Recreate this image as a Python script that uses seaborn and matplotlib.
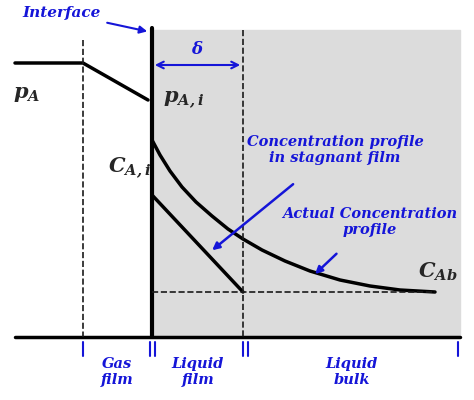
import matplotlib
matplotlib.use("Agg")
import matplotlib.pyplot as plt
import seaborn as sns
import numpy as np

sns.set_theme(style="white")
plt.rcParams['font.family'] = ['DejaVu Serif']
plt.rcParams['mathtext.fontset'] = 'custom'
plt.rcParams['mathtext.bf'] = 'DejaVu Serif:bold:italic'

gas_x = [15, 83, 148]
gas_y = [63, 63, 100]
curve_x = [152, 160, 170, 182, 196, 212, 228, 243, 262, 285, 310, 340, 370, 400, 435]
curve_y = [140, 155, 171, 187, 202, 216, 229, 239, 250, 261, 271, 280, 286, 290, 292]
film_x = [152, 243]
film_y = [195, 292]
blue = "#1515d8"

fig = plt.figure(figsize=(4.74, 4.0), dpi=100)
ax = fig.add_axes([0, 0, 1, 1])
ax.set_xlim(0, 474); ax.set_ylim(400, 0); ax.axis("off")

ax.add_patch(plt.Rectangle((152, 30), 308, 307, color="#dcdcdc", zorder=0))
sns.lineplot(x=gas_x, y=gas_y, ax=ax, color="black", lw=2.5, sort=False)
sns.lineplot(x=curve_x, y=curve_y, ax=ax, color="black", lw=2.5, sort=False)
sns.lineplot(x=film_x, y=film_y, ax=ax, color="black", lw=2.5, sort=False)
ax.plot([15, 460], [337, 337], color="black", lw=2.5)
ax.plot([152, 152], [28, 337], color="black", lw=3)
ax.plot([83, 83], [40, 337], "k--", lw=1.2)
ax.plot([243, 243], [30, 337], "k--", lw=1.2)
ax.plot([152, 435], [292, 292], "k--", lw=1.2)

fs = dict(fontweight="bold", style="italic")
ax.annotate("", xy=(243, 65), xytext=(152, 65), arrowprops=dict(arrowstyle="<->", color=blue, lw=1.5))
ax.text(197, 50, "δ", color=blue, fontsize=12, ha="center", va="center", **fs)
ax.annotate("Interface", xy=(150, 32), xytext=(62, 13), color=blue, fontsize=11, ha="center", va="center",
            arrowprops=dict(arrowstyle="-|>", color=blue, lw=1.5), **fs)
ax.text(13, 95, r"$\mathbf{p_A}$", fontsize=15, va="center")
ax.text(163, 100, r"$\mathbf{p_{A,i}}$", fontsize=15, va="center")
ax.text(108, 168, r"$\mathbf{C_{A,i}}$", fontsize=15, va="center")
ax.text(418, 272, r"$\mathbf{C_{Ab}}$", fontsize=15, va="center")
ax.annotate("Concentration profile\nin stagnant film", xy=(210, 252), xytext=(335, 150), color=blue,
            fontsize=10.5, ha="center", va="center",
            arrowprops=dict(arrowstyle="-|>", color=blue, lw=1.8, shrinkA=18), **fs)
ax.annotate("Actual Concentration\nprofile", xy=(313, 276), xytext=(370, 222), color=blue,
            fontsize=10.5, ha="center", va="center",
            arrowprops=dict(arrowstyle="-|>", color=blue, lw=1.8, shrinkA=14), **fs)

for x in [83, 150, 155, 243, 248, 458]:
    ax.plot([x, x], [342, 356], color=blue, lw=1.5)
for lbl, x in [("Gas\nfilm", 117), ("Liquid\nfilm", 198), ("Liquid\nbulk", 352)]:
    ax.text(x, 372, lbl, color=blue, fontsize=10.5, ha="center", va="center", **fs)

fig.savefig("out.png", dpi=100)
